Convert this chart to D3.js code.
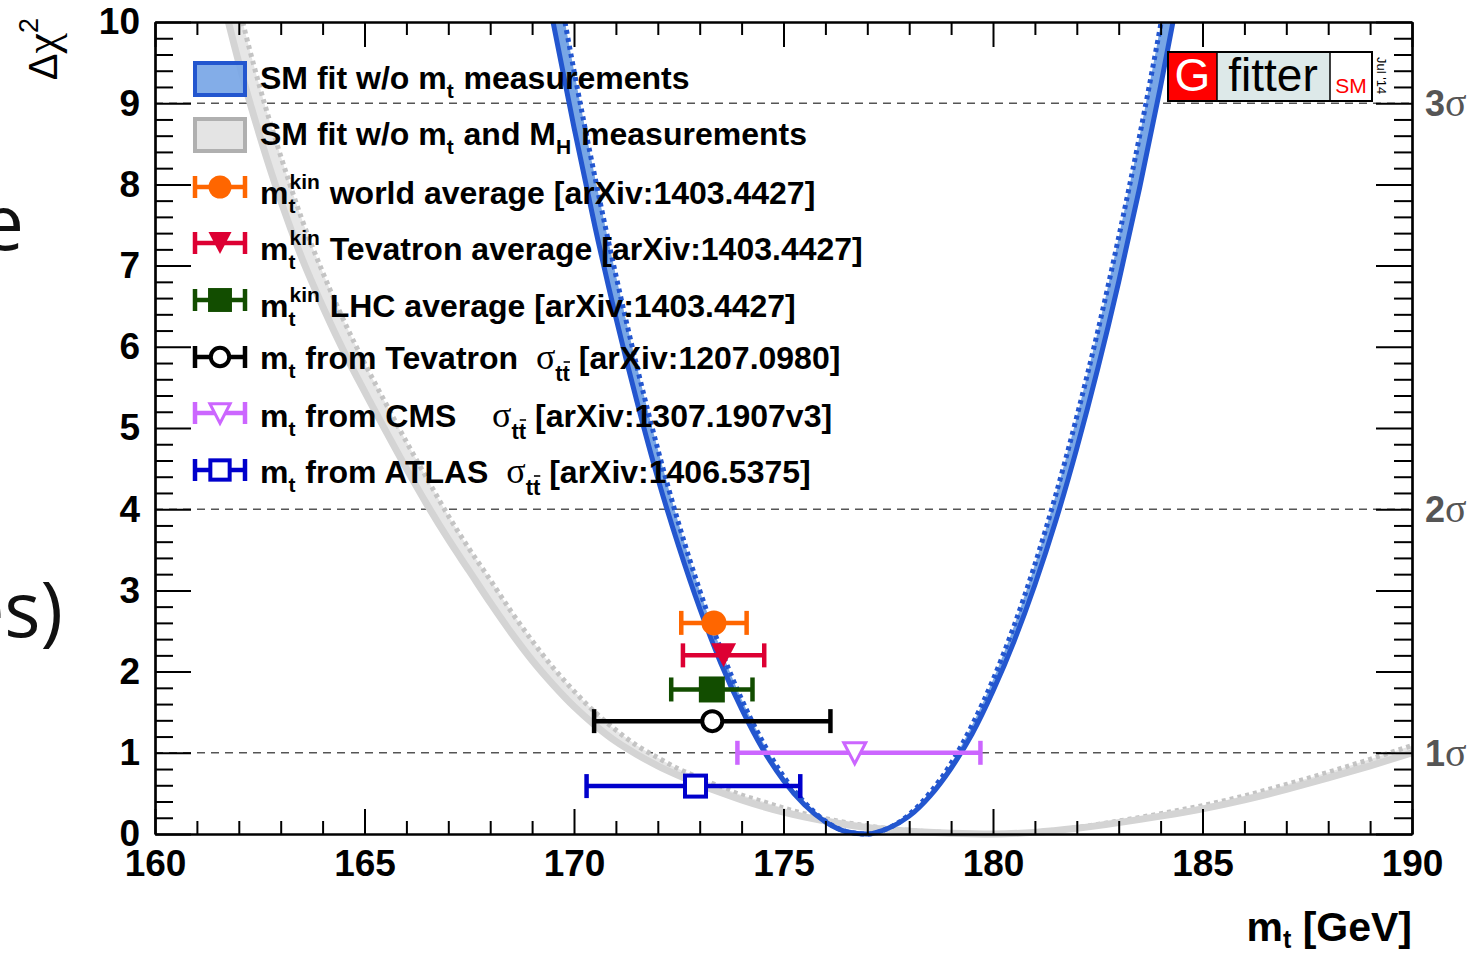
<!DOCTYPE html>
<html>
<head>
<meta charset="utf-8">
<script src="https://cdn.jsdelivr.net/npm/d3@7"></script>
<style>
  html, body { margin: 0; padding: 0; background: #fff; overflow: hidden; }
  svg { display: block; }
  text { white-space: pre; }
</style>
</head>
<body>
<svg id="chart" width="1479" height="955"></svg>
<script>
// Δχ² profile versus the top-quark mass, global electroweak fit (Gfitter, Jul '14)

// ---- axes ----
const xTicks = [160, 165, 170, 175, 180, 185, 190];
const yTicks = [0, 1, 2, 3, 4, 5, 6, 7, 8, 9, 10];
const sigmaLevels = [1, 4, 9];
const sigmaNames = ["1", "2", "3"];

// ---- SM fit without m_t measurements (blue) ----
const blueMt = [169.0, 169.5, 170.0, 170.5, 171.0, 171.5, 172.0, 172.5, 173.0, 173.5,
                174.0, 174.5, 175.0, 175.5, 176.0, 176.5, 177.0, 177.5, 178.0, 178.5,
                179.0, 179.5, 180.0, 180.5, 181.0, 181.5, 182.0, 182.5, 183.0, 183.5,
                184.0, 184.5, 185.0];
// full fit (with theory uncertainties)
const blueChi2 = [11.40, 10.00, 8.70, 7.48, 6.36, 5.33, 4.38, 3.54, 2.78, 2.11,
                  1.54, 1.05, 0.66, 0.36, 0.15, 0.03, 0.00, 0.07, 0.22, 0.47,
                  0.81, 1.23, 1.76, 2.37, 3.07, 3.86, 4.75, 5.73, 6.80, 7.96,
                  9.21, 10.55, 11.98];
// fit without theory uncertainties (dotted)
const blueChi2NoTh = [12.33, 10.82, 9.40, 8.09, 6.88, 5.76, 4.74, 3.82, 3.00, 2.28,
                      1.66, 1.14, 0.71, 0.39, 0.16, 0.03, 0.00, 0.07, 0.24, 0.51,
                      0.87, 1.34, 1.90, 2.56, 3.32, 4.18, 5.14, 6.19, 7.35, 8.60,
                      9.96, 11.41, 12.96];

// ---- SM fit without m_t and M_H measurements (grey) ----
const greyMt = [161.0, 161.5, 162.0, 162.5, 163.0, 163.5, 164.0, 164.5, 165.0, 165.5,
                166.0, 166.5, 167.0, 167.5, 168.0, 168.5, 169.0, 169.5, 170.0, 170.5,
                171.0, 171.5, 172.0, 172.5, 173.0, 173.5, 174.0, 174.5, 175.0, 176.0,
                177.0, 178.0, 179.0, 180.0, 181.0, 182.0, 183.0, 184.0, 185.0, 186.0,
                187.0, 188.0, 189.0, 190.0];
const greyChi2 = [11.8, 10.55, 9.5, 8.6, 7.8, 7.1, 6.5, 5.95, 5.45, 4.97,
                  4.5, 4.05, 3.63, 3.24, 2.85, 2.48, 2.14, 1.84, 1.57, 1.34,
                  1.14, 0.98, 0.84, 0.72, 0.61, 0.51, 0.42, 0.34, 0.27, 0.16,
                  0.08, 0.035, 0.01, 0.0, 0.02, 0.07, 0.14, 0.22, 0.31, 0.42,
                  0.55, 0.69, 0.84, 1.0];
const greyChi2NoTh = [12.7, 11.4, 10.2, 9.2, 8.35, 7.58, 6.92, 6.33, 5.8, 5.31,
                      4.83, 4.37, 3.92, 3.51, 3.13, 2.74, 2.38, 2.05, 1.76, 1.5,
                      1.28, 1.09, 0.94, 0.80, 0.69, 0.58, 0.48, 0.40, 0.32, 0.19,
                      0.10, 0.045, 0.015, 0.0, 0.025, 0.08, 0.16, 0.25, 0.35, 0.47,
                      0.61, 0.76, 0.92, 1.09];

// ---- direct / indirect m_t determinations ----
const measKeys  = ["world", "tevatron", "lhc", "tevXsec", "cmsXsec", "atlasXsec"];
const measMass  = [173.34, 173.57, 173.29, 173.3, 176.7, 172.9];
const measErrLo = [0.78, 0.97, 0.97, 2.82, 2.8, 2.6];
const measErrHi = [0.78, 0.97, 0.97, 2.82, 3.0, 2.5];
const measRow   = [2.6, 2.2, 1.78, 1.39, 1.0, 0.59];   // vertical placement in Δχ² units

// ---- legend text ----
const legendLabels = [
  [{t: "SM fit w/o m"}, {sub: "t"}, {t: " measurements"}],
  [{t: "SM fit w/o m"}, {sub: "t"}, {t: " and M"}, {sub: "H"}, {t: " measurements"}],
  [{t: "m"}, {sup: "kin", sub: "t"}, {t: " world average [arXiv:1403.4427]"}],
  [{t: "m"}, {sup: "kin", sub: "t"}, {t: " Tevatron average [arXiv:1403.4427]"}],
  [{t: "m"}, {sup: "kin", sub: "t"}, {t: " LHC average [arXiv:1403.4427]"}],
  [{t: "m"}, {sub: "t"}, {t: " from Tevatron  "}, {sym: "σ"}, {ttbar: true}, {t: " [arXiv:1207.0980]"}],
  [{t: "m"}, {sub: "t"}, {t: " from CMS    "}, {sym: "σ"}, {ttbar: true}, {t: " [arXiv:1307.1907v3]"}],
  [{t: "m"}, {sub: "t"}, {t: " from ATLAS  "}, {sym: "σ"}, {ttbar: true}, {t: " [arXiv:1406.5375]"}]
];

// ---------------------------------------------------------------------------
const SANS = "'Liberation Sans', Arial, Helvetica, sans-serif";
const SERIF = "'Liberation Serif', 'Times New Roman', serif";
const BLUE = "#2356cf", BLUE_FILL = "#78a6e6";
const GREY = "#d4d4d4", GREY_FILL = "#e6e6e6", GREY_DOT = "#c4c4c4";

const frame = {l: 155, r: 1412, t: 22, b: 834};
const x = d3.scaleLinear().domain([160, 190]).range([frame.l, frame.r]);
const y = d3.scaleLinear().domain([0, 10]).range([frame.b, frame.t]);

const svg = d3.select("#chart");

svg.append("defs").append("clipPath").attr("id", "plotClip")
  .append("rect")
  .attr("x", frame.l).attr("y", frame.t)
  .attr("width", frame.r - frame.l).attr("height", frame.b - frame.t + 5);

// fragments of surrounding slide text at the left edge
svg.append("text").attr("x", 24).attr("y", 250).attr("text-anchor", "end")
  .style("font", `76px 'Open Sans', sans-serif`).attr("fill", "#111").text("e");
svg.append("text").attr("x", 63).attr("y", 637).attr("text-anchor", "end")
  .style("font", `76px 'Open Sans', sans-serif`).attr("fill", "#111").text("es)");

// confidence-level reference lines
svg.append("g").selectAll("line").data(sigmaLevels).join("line")
  .attr("x1", frame.l).attr("x2", frame.r)
  .attr("y1", d => y(d)).attr("y2", d => y(d))
  .attr("stroke", "#555").attr("stroke-width", 1.6).attr("stroke-dasharray", "8,6");

// Δχ² bands
const plot = svg.append("g").attr("clip-path", "url(#plotClip)");

function drawProfile(mt, chi2, chi2NoTh, col) {
  const pts = mt.map((m, i) => ({m, a: chi2[i], b: chi2NoTh[i]}));
  plot.append("path").datum(pts)
    .attr("d", d3.area().curve(d3.curveMonotoneX)
      .x(d => x(d.m)).y0(d => y(d.b)).y1(d => y(d.a)))
    .attr("fill", col.fill);
  plot.append("path").datum(pts)
    .attr("d", d3.line().curve(d3.curveMonotoneX).x(d => x(d.m)).y(d => y(d.b)))
    .attr("fill", "none").attr("stroke", col.dot).attr("stroke-width", col.dotW)
    .attr("stroke-dasharray", "4,4");
  plot.append("path").datum(pts)
    .attr("d", d3.line().curve(d3.curveMonotoneX).x(d => x(d.m)).y(d => y(d.a)))
    .attr("fill", "none").attr("stroke", col.line).attr("stroke-width", col.lineW);
}
drawProfile(greyMt, greyChi2, greyChi2NoTh, {fill: GREY_FILL, dot: GREY_DOT, dotW: 5, line: GREY, lineW: 7});
drawProfile(blueMt, blueChi2, blueChi2NoTh, {fill: BLUE_FILL, dot: BLUE, dotW: 5, line: BLUE, lineW: 5});

// markers
const measStyle = {
  world:     {shape: "circle",   color: "#ff6600", open: false},
  tevatron:  {shape: "triangle", color: "#dd0033", open: false},
  lhc:       {shape: "square",   color: "#124d00", open: false},
  tevXsec:   {shape: "circle",   color: "#000000", open: true},
  cmsXsec:   {shape: "triangle", color: "#cc66ff", open: true},
  atlasXsec: {shape: "square",   color: "#0000cc", open: true}
};

function drawMarker(g, st, cx, cy, scale) {
  const s = scale || 1;
  const fill = st.open ? "#fff" : st.color;
  const sw = st.open ? 4 : 0;
  if (st.shape === "circle") {
    g.append("circle").attr("cx", cx).attr("cy", cy)
      .attr("r", (st.open ? 10 : 12.5) * s)
      .attr("fill", fill).attr("stroke", st.color).attr("stroke-width", sw);
  } else if (st.shape === "square") {
    const h = (st.open ? 10.5 : 13) * s;
    g.append("rect").attr("x", cx - h).attr("y", cy - h).attr("width", 2 * h).attr("height", 2 * h)
      .attr("fill", fill).attr("stroke", st.color).attr("stroke-width", sw);
  } else {
    const w = (st.open ? 11 : 12.5) * s, h = (st.open ? 10 : 12) * s;
    g.append("path")
      .attr("d", `M${cx - w},${cy - h}L${cx + w},${cy - h}L${cx},${cy + h + (st.open ? 1 : 0)}Z`)
      .attr("fill", fill).attr("stroke", st.color).attr("stroke-width", st.open ? 3 : 0)
      .attr("stroke-linejoin", "miter");
  }
}

function drawErrorBar(g, color, x0, x1, cy, capH) {
  g.append("line").attr("x1", x0).attr("x2", x1).attr("y1", cy).attr("y2", cy)
    .attr("stroke", color).attr("stroke-width", 4.5);
  [x0, x1].forEach(xx => g.append("line")
    .attr("x1", xx).attr("x2", xx).attr("y1", cy - capH / 2).attr("y2", cy + capH / 2)
    .attr("stroke", color).attr("stroke-width", 4.5));
}

const measG = svg.append("g");
measKeys.forEach((k, i) => {
  const st = measStyle[k];
  const cy = y(measRow[i]);
  drawErrorBar(measG, st.color, x(measMass[i] - measErrLo[i]), x(measMass[i] + measErrHi[i]), cy, 24);
  drawMarker(measG, st, x(measMass[i]), cy);
});

// axes
function styleAxis(g) {
  g.selectAll(".domain").attr("stroke", "#000").attr("stroke-width", 2.2);
  g.selectAll(".tick line").attr("stroke", "#000").attr("stroke-width", 2);
  g.selectAll(".tick text").attr("fill", "#000")
    .style("font", `bold 37px ${SANS}`);
}
const xMinor = d3.range(160, 191, 1).filter(v => v % 5 !== 0);
const yMinor = d3.range(0, 10.01, 0.2).map(v => +v.toFixed(1)).filter(v => Math.abs(v - Math.round(v)) > 1e-6);

svg.append("g").attr("transform", `translate(0,${frame.b})`)
  .call(d3.axisBottom(x).tickValues(xMinor).tickSize(-13).tickSizeOuter(0).tickFormat(""))
  .call(styleAxis);
svg.append("g").attr("transform", `translate(0,${frame.b})`)
  .call(d3.axisBottom(x).tickValues(xTicks).tickSize(-25).tickSizeOuter(0).tickPadding(16).tickFormat(d3.format("d")))
  .call(styleAxis);
svg.append("g").attr("transform", `translate(0,${frame.t})`)
  .call(d3.axisTop(x).tickValues(xMinor).tickSize(-13).tickSizeOuter(0).tickFormat(""))
  .call(styleAxis);
svg.append("g").attr("transform", `translate(0,${frame.t})`)
  .call(d3.axisTop(x).tickValues(xTicks).tickSize(-25).tickSizeOuter(0).tickFormat(""))
  .call(styleAxis);
svg.append("g").attr("transform", `translate(${frame.l},0)`)
  .call(d3.axisLeft(y).tickValues(yMinor).tickSize(-18).tickSizeOuter(0).tickFormat(""))
  .call(styleAxis);
svg.append("g").attr("transform", `translate(${frame.l},0)`)
  .call(d3.axisLeft(y).tickValues(yTicks).tickSize(-36).tickSizeOuter(0).tickPadding(15).tickFormat(d3.format("d")))
  .call(styleAxis);
svg.append("g").attr("transform", `translate(${frame.r},0)`)
  .call(d3.axisRight(y).tickValues(yMinor).tickSize(-18).tickSizeOuter(0).tickFormat(""))
  .call(styleAxis);
svg.append("g").attr("transform", `translate(${frame.r},0)`)
  .call(d3.axisRight(y).tickValues(yTicks).tickSize(-36).tickSizeOuter(0).tickFormat(""))
  .call(styleAxis);

// σ labels on the right
sigmaLevels.forEach((lv, i) => {
  const t = svg.append("text").attr("x", 1425).attr("y", y(lv) + 13).attr("fill", "#555");
  t.append("tspan").style("font", `bold 36px ${SANS}`).text(sigmaNames[i]);
  t.append("tspan").style("font", `40px ${SERIF}`).text("σ");
});

// axis titles
const xt = svg.append("text").attr("x", frame.r).attr("y", 941).attr("text-anchor", "end")
  .style("font", `bold 41px ${SANS}`).attr("fill", "#000");
xt.append("tspan").text("m");
xt.append("tspan").attr("dy", 7).style("font-size", "25px").text("t");
xt.append("tspan").attr("dy", -7).text(" [GeV]");

const yt = svg.append("text").attr("transform", "translate(57,18) rotate(-90)")
  .attr("text-anchor", "end").attr("fill", "#000");
yt.append("tspan").style("font", `40px ${SANS}`).text("Δ");
yt.append("tspan").style("font", `46px ${SERIF}`).text("χ");
yt.append("tspan").attr("dy", -19).style("font", `27px ${SANS}`).text("2");

// legend
const leg = svg.append("g");
const legMarkY = [79, 135, 187, 243, 300, 357, 413, 470];
const legBase  = [89, 145, 204, 260, 317, 369, 427, 483];
const LX0 = 193, LX1 = 247, LXC = 220, LTX = 260, FS = 32;

function rich(g, x0, base, parts) {
  let cx = x0;
  parts.forEach(p => {
    if (p.t !== undefined) {
      const t = g.append("text").attr("x", cx).attr("y", base)
        .attr("xml:space", "preserve")
        .style("font", `bold ${FS}px ${SANS}`).text(p.t);
      cx += t.node().getComputedTextLength();
    } else if (p.sym !== undefined) {
      const t = g.append("text").attr("x", cx).attr("y", base)
        .style("font", `36px ${SERIF}`).text(p.sym);
      cx += t.node().getComputedTextLength();
    } else if (p.ttbar) {
      const t = g.append("text").attr("x", cx).attr("y", base + 12)
        .style("font", `bold 22px ${SANS}`).text("tt");
      const w = t.node().getComputedTextLength();
      g.append("line").attr("x1", cx + w / 2 + 1).attr("x2", cx + w)
        .attr("y1", base - 7).attr("y2", base - 7)
        .attr("stroke", "#000").attr("stroke-width", 1.6);
      cx += w;
    } else {
      let w = 0;
      if (p.sup !== undefined) {
        const t = g.append("text").attr("x", cx + 1).attr("y", base - 15)
          .style("font", `bold 21px ${SANS}`).text(p.sup);
        w = Math.max(w, t.node().getComputedTextLength() + 1);
      }
      if (p.sub !== undefined) {
        const t = g.append("text").attr("x", cx).attr("y", base + 9)
          .style("font", `bold 21px ${SANS}`).text(p.sub);
        w = Math.max(w, t.node().getComputedTextLength());
      }
      cx += w + 1;
    }
  });
}

// band entries
leg.append("rect").attr("x", LX0 + 2).attr("y", legMarkY[0] - 16).attr("width", LX1 - LX0 - 4).attr("height", 32)
  .attr("fill", BLUE_FILL).attr("fill-opacity", 0.92).attr("stroke", BLUE).attr("stroke-width", 4);
leg.append("rect").attr("x", LX0 + 2).attr("y", legMarkY[1] - 16).attr("width", LX1 - LX0 - 4).attr("height", 32)
  .attr("fill", "#e2e2e2").attr("fill-opacity", 0.92).attr("stroke", "#b0b0b0").attr("stroke-width", 4);

measKeys.forEach((k, i) => {
  const st = measStyle[k];
  const cy = legMarkY[i + 2];
  drawErrorBar(leg, st.color, LX0 + 2, LX1 - 2, cy, 22);
  drawMarker(leg, st, LXC, cy, 0.92);
});

legendLabels.forEach((parts, i) => rich(leg, LTX, legBase[i], parts));

// Gfitter logo
const logo = svg.append("g");
logo.append("rect").attr("x", 1168).attr("y", 52).attr("width", 49).attr("height", 49).attr("fill", "#ff0000");
logo.append("rect").attr("x", 1217).attr("y", 52).attr("width", 113).attr("height", 49).attr("fill", "#dde9e9");
logo.append("rect").attr("x", 1330).attr("y", 52).attr("width", 42).attr("height", 49).attr("fill", "#fff");
logo.append("rect").attr("x", 1168).attr("y", 52).attr("width", 204).attr("height", 49)
  .attr("fill", "none").attr("stroke", "#000").attr("stroke-width", 2);
logo.append("line").attr("x1", 1217).attr("x2", 1217).attr("y1", 52).attr("y2", 101).attr("stroke", "#000").attr("stroke-width", 1.5);
logo.append("line").attr("x1", 1330).attr("x2", 1330).attr("y1", 52).attr("y2", 101).attr("stroke", "#000").attr("stroke-width", 1.5);
logo.append("text").attr("x", 1192.5).attr("y", 91).attr("text-anchor", "middle")
  .style("font", `46px ${SANS}`).attr("fill", "#fff").text("G");
logo.append("text").attr("x", 1273).attr("y", 91).attr("text-anchor", "middle")
  .style("font", `46px ${SANS}`).attr("fill", "#000").text("fitter");
logo.append("text").attr("x", 1351).attr("y", 93).attr("text-anchor", "middle")
  .style("font", `21px ${SANS}`).attr("fill", "#ff0000").text("SM");
logo.append("text").attr("transform", "translate(1377,57) rotate(90)")
  .style("font", `13px ${SANS}`).attr("fill", "#000").text("Jul '14");
</script>
</body>
</html>
